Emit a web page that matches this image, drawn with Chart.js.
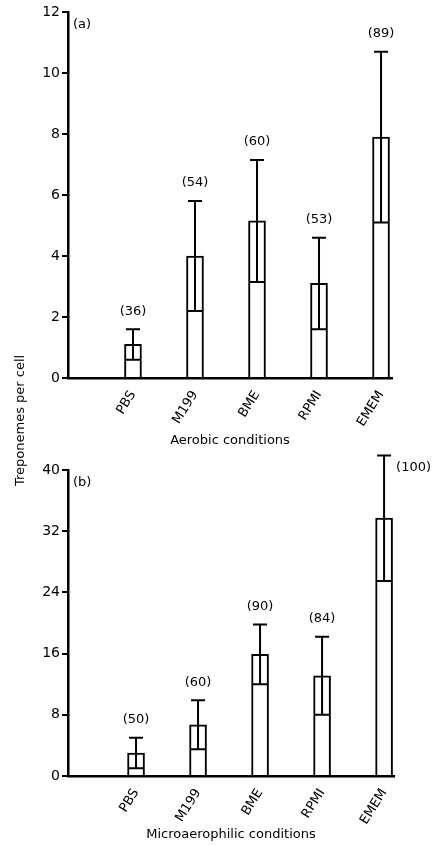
<!DOCTYPE html>
<html>
<head>
<meta charset="utf-8">
<script src="https://cdn.jsdelivr.net/npm/chart.js@4"></script>
<style>
  body { margin: 0; background: #fff; width: 436px; height: 846px; position: relative; overflow: hidden; }
  canvas { position: absolute; left: 0; }
  #ytitle { position: absolute; left: 12px; top: 340px; height: 160px; line-height: 16px;
            writing-mode: vertical-rl; transform: rotate(180deg); text-align: center;
            font: 13px "DejaVu Sans", sans-serif; white-space: nowrap; color: #000; }
</style>
</head>
<body>
<canvas id="chartA" width="436" height="452" style="top:0"></canvas>
<canvas id="chartB" width="436" height="394" style="top:452px"></canvas>
<div id="ytitle">Treponemes per cell</div>
<script>
// media along the x-axis
var media = ["PBS", "M199", "BME", "RPMI", "EMEM"];

// (a) aerobic: mean, standard deviation, number counted
var aerobicMean = [1.1, 4.0, 5.15, 3.1, 7.9];
var aerobicSD = [0.5, 1.8, 2.0, 1.5, 2.8];
var aerobicN = ["(36)", "(54)", "(60)", "(53)", "(89)"];

// (b) microaerophilic
var microMean = [3.0, 6.7, 15.9, 13.1, 33.7];
var microSD = [2.0, 3.2, 3.9, 5.1, 8.2];
var microN = ["(50)", "(60)", "(90)", "(84)", "(100)"];

var aerobicTicks = [0, 2, 4, 6, 8, 10, 12];
var microTicks = [0, 8, 16, 24, 32, 40];

var FONT = "DejaVu Sans";
Chart.defaults.font.family = FONT;
Chart.defaults.font.size = 13;
Chart.defaults.color = "#000";

// error bars, the lower line inside each bar, and the counts
var errorPlugin = {
  id: "errors",
  afterDatasetsDraw: function(chart, args, opts) {
    var ctx = chart.ctx;
    var xs = chart.scales.x, ys = chart.scales.y;
    ctx.save();
    ctx.strokeStyle = "#000";
    ctx.lineWidth = 2;
    ctx.fillStyle = "#000";
    ctx.font = "13px " + FONT;
    opts.means.forEach(function(m, i) {
      var x = xs.getPixelForValue(i + 1);
      var yLo = ys.getPixelForValue(m - opts.sds[i]);
      var yHi = ys.getPixelForValue(m + opts.sds[i]);
      ctx.beginPath();
      ctx.moveTo(x - 7.5, yLo); ctx.lineTo(x + 7.5, yLo);
      ctx.moveTo(x, yLo); ctx.lineTo(x, yHi);
      ctx.moveTo(x - 7, yHi); ctx.lineTo(x + 7, yHi);
      ctx.stroke();
      if (yHi - 18 < 10) {
        ctx.textAlign = "left"; ctx.textBaseline = "middle";
        ctx.fillText(opts.counts[i], x + 12, yHi + 12);
      } else {
        ctx.textAlign = "center"; ctx.textBaseline = "middle";
        ctx.fillText(opts.counts[i], x, yHi - 18);
      }
    });
    ctx.textAlign = "left"; ctx.textBaseline = "middle";
    ctx.fillText(opts.panel, chart.chartArea.left + 5, chart.chartArea.top + 13);
    ctx.restore();
  }
};

function makeChart(id, means, sds, counts, ticks, panel, title, xMin, xMax, padRight, xHeight, padTop) {
  return new Chart(document.getElementById(id), {
    type: "bar",
    data: {
      datasets: [{
        data: means.map(function(v, i) { return { x: i + 1, y: v }; }),
        backgroundColor: "#fff",
        borderColor: "#000",
        borderWidth: 2,
        borderSkipped: "bottom",
        barThickness: 17
      }]
    },
    options: {
      responsive: false,
      animation: false,
      layout: { padding: { left: 0, right: padRight, top: padTop, bottom: 0 } },
      plugins: {
        legend: { display: false },
        tooltip: { enabled: false },
        errors: { means: means, sds: sds, counts: counts, panel: panel }
      },
      scales: {
        x: {
          type: "linear",
          offset: false,
          min: xMin, max: xMax,
          afterBuildTicks: function(s) { s.ticks = media.map(function(m, i) { return { value: i + 1 }; }); },
          afterFit: function(s) { s.height = xHeight; },
          ticks: {
            callback: function(v) { return media[v - 1]; },
            minRotation: 58, maxRotation: 58, padding: 2, font: { size: 13 }
          },
          grid: { display: false, offset: false },
          border: { display: true, color: "#000", width: 2.5 },
          title: { display: true, text: title, font: { size: 13 }, padding: { top: 2, bottom: 4 } }
        },
        y: {
          min: ticks[0], max: ticks[ticks.length - 1],
          afterBuildTicks: function(s) { s.ticks = ticks.map(function(v) { return { value: v }; }); },
          afterFit: function(s) { s.width = 68; },
          ticks: { padding: 2, font: { size: 14 } },
          grid: { display: true, drawOnChartArea: false, tickLength: 6, color: "#000", lineWidth: 2 },
          border: { display: true, color: "#000", width: 2.5 }
        }
      }
    },
    plugins: [errorPlugin]
  });
}

makeChart("chartA", aerobicMean, aerobicSD, aerobicN, aerobicTicks, "(a)", "Aerobic conditions",
  -0.048, 5.177, 44, 74, 12);
makeChart("chartB", microMean, microSD, microN, microTicks, "(b)", "Microaerophilic conditions",
  -0.097, 5.16, 42, 70, 18);
</script>
</body>
</html>
